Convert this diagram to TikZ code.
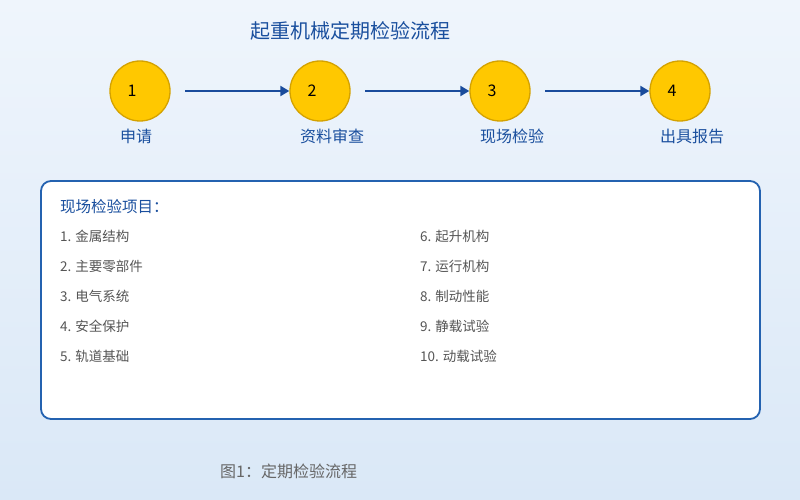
\documentclass[tikz,border=0pt]{standalone}
\usepackage{fontspec}
\setmainfont{Noto Sans CJK SC}
\usetikzlibrary{arrows.meta}
\definecolor{bgtop}{HTML}{EFF5FC}
\definecolor{bgbot}{HTML}{DAE8F7}
\definecolor{titleblue}{HTML}{1A4F9E}
\definecolor{arrowblue}{HTML}{1A4C9C}
\definecolor{boxblue}{HTML}{2462B0}
\definecolor{gold}{HTML}{FFC800}
\definecolor{goldedge}{HTML}{D4A200}
\definecolor{itemgray}{HTML}{555555}
\definecolor{capgray}{HTML}{666666}
\tikzset{
  stepcirc/.style={circle, draw=goldedge, line width=1.3pt, fill=gold, minimum size=60pt, inner sep=0pt},
  stepnum/.style={font=\fontsize{16}{16}\selectfont, text=black, inner sep=0pt},
  steplabel/.style={font=\fontsize{16}{16}\selectfont, text=titleblue, anchor=west, inner sep=0pt},
  flowarrow/.style={draw=arrowblue, line width=2pt, -{Triangle[length=9pt,width=10pt]}},
  itemtext/.style={font=\fontsize{13.5}{13.5}\selectfont, text=itemgray, anchor=west, inner sep=0pt},
}
\begin{document}
\begin{tikzpicture}[x=1pt,y=-1pt]
\useasboundingbox (0,0) rectangle (800,500);
\shade[top color=bgtop, bottom color=bgbot] (0,0) rectangle (800,500);
\node[font=\fontsize{20}{20}\selectfont, text=titleblue] (title) at (350,31) {起重机械定期检验流程};
% circles
\foreach \i/\x/\lab in {1/140/申请, 2/320/资料审查, 3/500/现场检验, 4/680/出具报告}{
  \node[stepcirc] (c\i) at (\x,91) {};
  \node[stepnum] (n\i) at (\x-8,91) {\i};
  \node[steplabel] (l\i) at (\x-20,136) {\lab};
}
\coordinate (a1s) at (185,91);
\coordinate (a2s) at (365,91);
\coordinate (a3s) at (545,91);
\draw[flowarrow] (a1s) -- (c2.west);
\draw[flowarrow] (a2s) -- (c3.west);
\draw[flowarrow] (a3s) -- (c4.west);
% box
\draw[draw=boxblue, line width=1.8pt, fill=white, rounded corners=10pt] (41,181) rectangle (760,419);
\node[font=\fontsize{15.5}{15.5}\selectfont, text=titleblue, anchor=west, inner sep=0pt] (hdr) at (60,207) {现场检验项目：};
\node[itemtext] (i1) at (60,236) {1. 金属结构};
\node[itemtext] (i2) at (60,266) {2. 主要零部件};
\node[itemtext] (i3) at (60,296) {3. 电气系统};
\node[itemtext] (i4) at (60,326) {4. 安全保护};
\node[itemtext] (i5) at (60,356) {5. 轨道基础};
\node[itemtext] (i6) at (420,236) {6. 起升机构};
\node[itemtext] (i7) at (420,266) {7. 运行机构};
\node[itemtext] (i8) at (420,296) {8. 制动性能};
\node[itemtext] (i9) at (420,326) {9. 静载试验};
\node[itemtext] (i10) at (420,356) {10. 动载试验};
\node[font=\fontsize{16}{16}\selectfont, text=capgray, anchor=west, inner sep=0pt] (cap) at (220,471) {图1：定期检验流程};
\end{tikzpicture}
\end{document}
